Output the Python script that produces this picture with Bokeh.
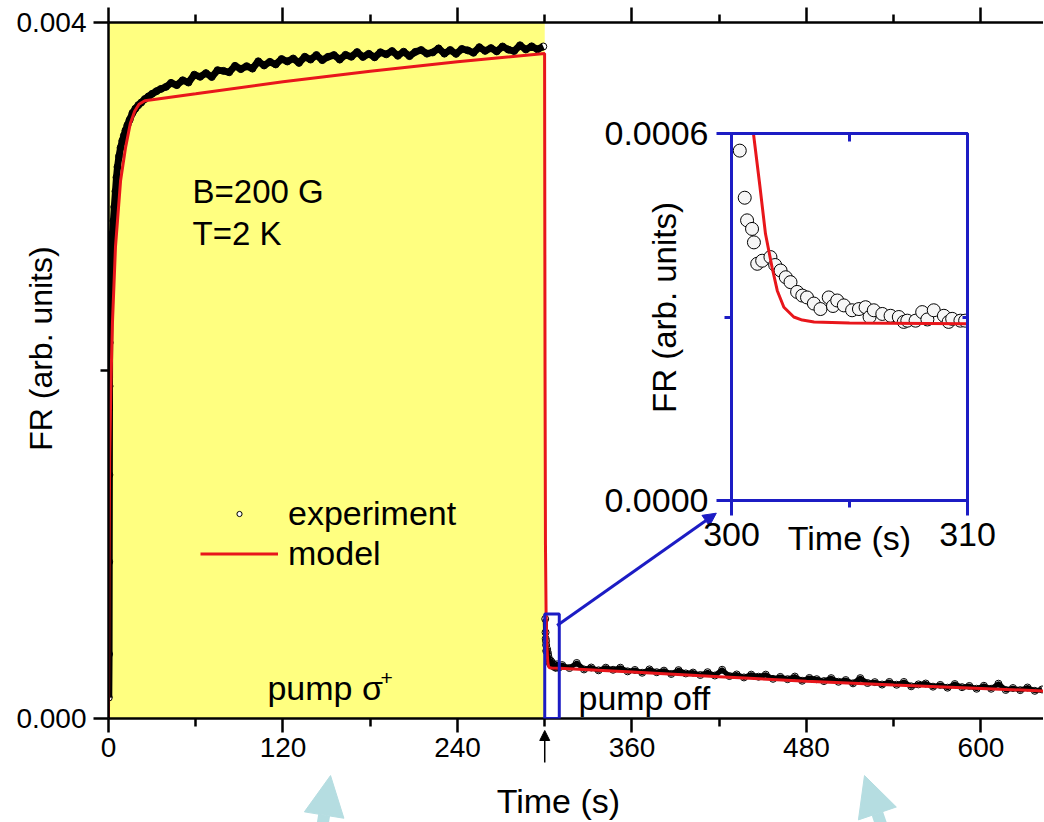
import numpy as np
from bokeh.plotting import figure
from bokeh.models import (Range1d, LinearAxis, FixedTicker, BoxAnnotation, Arrow,
                          NormalHead, Label, Legend, LegendItem, GridBox)
from bokeh.embed import file_html
from bokeh.resources import INLINE

FONT = "Liberation Sans"
RED = "#e8161b"
BLUE = "#1c1cc4"
YELLOW = "#ffff80"
LIGHT_BLUE = "#b5dde1"

SCALE = 1e-6          # FR values below are in units of 1e-6 (arb. units)
PUMP_OFF = 300.0      # s, end of the sigma+ pumping interval

# --- measured Faraday rotation, pump on: fast rise ---
rise_t = [0.2, 0.4, 0.5, 0.6, 0.7, 0.8, 0.9, 1.1, 1.4, 1.7, 2.1, 2.5, 2.9, 3.4, 4.0, 4.8,
          5.5, 6.2, 7.2, 8.3, 9.5, 10.6, 11.7, 13.0, 14.5, 16.5, 18.5, 20.5, 22.5,
          25.0, 27.5, 30.0, 33.0, 36.0, 39.5]
rise_fr = [120, 370, 900, 1400, 1910, 2160, 2330, 2410, 2490, 2570, 2670, 2740, 2790, 2860,
           2940, 3030, 3110, 3170, 3230, 3280, 3320, 3350, 3380, 3410, 3440, 3480, 3505,
           3525, 3540, 3560, 3575, 3590, 3605, 3618, 3630]

# --- measured, pump on: slow saturation ---
sat_t = [43, 47, 51, 55, 59, 63, 67, 71, 75, 79, 83, 87, 91, 95, 99, 103, 107, 111, 115,
         119, 123, 127, 131, 135, 139, 143, 147, 151, 155, 159, 163, 167, 171, 175, 179,
         183, 187, 191, 195, 199, 203, 207, 211, 215, 219, 223, 227, 231, 235, 239, 243,
         247, 251, 255, 259, 263, 267, 271, 275, 279, 283, 287, 291, 295, 299]
sat_fr = [3653, 3640, 3668, 3655, 3700, 3688, 3709, 3687, 3726, 3722, 3714, 3751, 3732,
          3749, 3735, 3777, 3753, 3774, 3759, 3790, 3776, 3793, 3768, 3803, 3787, 3813,
          3784, 3803, 3813, 3787, 3814, 3803, 3830, 3802, 3820, 3800, 3829, 3817, 3836,
          3809, 3832, 3807, 3831, 3842, 3821, 3828, 3851, 3821, 3842, 3820, 3848, 3840,
          3826, 3858, 3837, 3853, 3834, 3862, 3844, 3836, 3869, 3845, 3863, 3846, 3862]

# --- measured, pump off: first 10 s ---
fall_t = [300.35, 300.56, 300.66, 300.87, 300.95, 301.09, 301.30, 301.65, 301.85, 302.08,
          302.30, 302.50, 302.78, 303.00, 303.20, 303.49, 303.77, 304.12, 304.30, 304.48,
          304.76, 305.11, 305.40, 305.68, 305.85, 306.03, 306.39, 306.74, 307.09, 307.30,
          307.45, 307.80, 308.08, 308.30, 308.57, 309.00, 309.20, 309.35, 309.70, 309.90]
fall_fr = [572, 495, 458, 444, 422, 387, 392, 398, 385, 376, 365, 357, 341, 335, 332, 322,
           313, 332, 318, 327, 319, 311, 313, 316, 300, 311, 305, 302, 300, 292, 294, 294,
           308, 296, 311, 302, 292, 297, 294, 294]

# --- measured, pump off: slow relaxation ---
relax_t = [312, 317, 322, 327, 332, 337, 342, 347, 352, 357, 362, 367, 372, 377, 382, 387,
           392, 397, 402, 407, 412, 417, 422, 427, 432, 437, 442, 447, 452, 457, 462, 467,
           472, 477, 482, 487, 492, 497, 502, 507, 512, 517, 522, 527, 532, 537, 542, 547,
           552, 557, 562, 567, 572, 577, 582, 587, 592, 597, 602, 607, 612, 617, 622, 627,
           632, 637, 642]
relax_fr = [307, 290, 319, 282, 293, 277, 292, 280, 292, 271, 279, 263, 282, 266, 275, 256,
            278, 259, 264, 250, 266, 247, 280, 244, 253, 236, 252, 240, 252, 228, 239, 226,
            241, 217, 233, 226, 215, 232, 211, 221, 202, 232, 204, 209, 195, 210, 194, 210,
            185, 196, 201, 183, 193, 177, 198, 180, 187, 171, 188, 171, 200, 164, 175, 163,
            178, 159, 167]

# --- model curve ---
model_t = [0, 0.3, 0.8, 1.6, 2.7, 4.8, 8.3, 11.7, 15, 18, 21, 25, 60, 120, 180, 240, 299.9,
           300.2, 300.5, 300.93, 301.2, 301.44, 301.72, 301.94, 302.22, 302.64, 303.0,
           303.5, 305, 310, 360, 420, 480, 540, 600, 644]
model_fr = [0, 800, 1500, 1900, 2270, 2710, 3090, 3280, 3420, 3490, 3530, 3550, 3590, 3660,
            3720, 3775, 3822, 2000, 1000, 600, 515, 436, 381, 343, 316, 300, 295, 292, 290,
            289, 267, 240, 214, 192, 173, 158]

# ticks
x_major = [0, 120, 240, 360, 480, 600]
x_minor = [60, 180, 300, 420, 540]
y_major = [0.0, 0.004]
y_minor = [0.002]
y_labels = {0.0: "0.000", 0.004: "0.004"}

ins_x_major = [300, 310]
ins_x_minor = [305]
ins_y_major = [0.0, 0.0006]
ins_y_minor = [0.0003]
ins_y_labels = {0.0: "0.0000", 0.0006: "0.0006"}

# ---------------- page geometry (px) ----------------
# main canvas: page (0,0)-(1043,821); overlay canvas: page (1,1)-(1044,822);
# inset canvas: page (580,100)-(1007,570).  Distinct grid edges keep Bokeh
# from aligning the frames of the three plots.
MAIN_L, MAIN_T, MAIN_W, MAIN_H = 108, 22, 935, 696
MAIN_CW, MAIN_CH = 1043, 821
INS_X0, INS_Y0, INS_CW, INS_CH = 580, 100, 427, 470
INS_BL, INS_BT, INS_W, INS_H = 151, 33, 236, 367
OV_X0, OV_Y0, OV_CW, OV_CH = 1, 1, 1043, 821
X_END = 643.0
Y_END = 0.004
INS_X = (300.0, 310.0)
INS_Y = (0.0, 0.0006)

on_t = np.array(rise_t + sat_t, dtype=float)
on_fr = np.array(rise_fr + sat_fr, dtype=float) * SCALE
off_t = np.array(fall_t + relax_t, dtype=float)
off_fr = np.array(fall_fr + relax_fr, dtype=float) * SCALE
all_t = np.concatenate([on_t, off_t])
all_fr = np.concatenate([on_fr, off_fr])
m_t = np.array(model_t, dtype=float)
m_fr = np.array(model_fr, dtype=float) * SCALE


def style_axis(ax, major, minor, out, minor_out, color, width, font_size, standoff,
               tick_in=0, minor_in=0):
    ax.ticker = FixedTicker(ticks=major, minor_ticks=minor)
    ax.axis_line_color = color
    ax.axis_line_width = width
    ax.major_tick_line_color = color
    ax.major_tick_line_width = width
    ax.minor_tick_line_color = color
    ax.minor_tick_line_width = width
    ax.major_tick_out = out
    ax.major_tick_in = tick_in
    ax.minor_tick_out = minor_out
    ax.minor_tick_in = minor_in
    ax.major_label_text_font = FONT
    ax.major_label_text_font_size = font_size
    ax.major_label_text_color = "black"
    ax.major_label_standoff = standoff


def add_text(fig, x, y, text, size, align="left", angle=0.0, xr="default", yr="default"):
    fig.add_layout(Label(x=x, y=y, text=text, text_font=FONT, text_font_size=size,
                         text_align=align, text_baseline="middle", angle=angle,
                         text_color="black", x_range_name=xr, y_range_name=yr))


# ---------------- main panel ----------------
p = figure(frame_width=MAIN_W, frame_height=MAIN_H, x_range=Range1d(0, X_END),
           y_range=Range1d(0, Y_END), output_backend="svg", toolbar_location=None,
           min_border_left=MAIN_L, min_border_top=MAIN_T,
           min_border_right=MAIN_CW - MAIN_L - MAIN_W,
           min_border_bottom=MAIN_CH - MAIN_T - MAIN_H)
p.xgrid.visible = False
p.ygrid.visible = False
p.outline_line_color = None
p.background_fill_color = "white"
p.border_fill_color = "white"

style_axis(p.xaxis[0], x_major, x_minor, 14, 8, "black", 2.5, "28px", 5)
style_axis(p.yaxis[0], y_major, y_minor, 15, 8, "black", 2.5, "28px", 7)
p.yaxis[0].major_label_overrides = y_labels

top = LinearAxis()
style_axis(top, x_major, x_minor, 15, 8, "black", 2.5, "1px", 0)
top.major_label_text_alpha = 0
p.add_layout(top, "above")

# pumping interval
p.add_layout(BoxAnnotation(left=0, right=PUMP_OFF, fill_color=YELLOW, fill_alpha=1.0,
                           line_color=None, level="underlay"))

# experiment: open circles, dense trace drawn over them
exp_r = p.scatter(all_t, all_fr, marker="circle", size=7, line_color="black",
                  line_width=1, fill_color="white")
p.line(on_t, on_fr, line_color="black", line_width=7, line_join="round")
p.line(off_t, off_fr, line_color="black", line_width=5, line_join="round")
# model
model_r = p.line(m_t, m_fr, line_color=RED, line_width=3)

# zoom window and pointer to the inset
p.add_layout(BoxAnnotation(left=INS_X[0], right=INS_X[1], bottom=INS_Y[0], top=INS_Y[1],
                           fill_alpha=0, line_color=BLUE, line_alpha=1.0, line_width=3))
p.add_layout(Arrow(x_start=308.5, y_start=0.000534, x_end=418, y_end=0.00118,
                   line_color=BLUE, line_width=3,
                   end=NormalHead(size=13, fill_color=BLUE, line_color=BLUE)))

add_text(p, 57.8, 0.0030287, "B=200 G", "33px")
add_text(p, 57.8, 0.0027874, "T=2 K", "33px")
add_text(p, 109.3, 0.0001759, "pump \u03c3", "34px")
add_text(p, 187.0, 0.0002328, "+", "21px")
add_text(p, 323.2, 0.0001184, "pump off", "34px")

legend = Legend(items=[LegendItem(label="experiment", renderers=[exp_r]),
                       LegendItem(label="model", renderers=[model_r])],
                location=(92, 145), orientation="vertical", glyph_width=78,
                glyph_height=13, label_height=40, label_standoff=10, spacing=0,
                padding=0, margin=0, border_line_color=None, background_fill_alpha=0,
                label_text_font=FONT, label_text_font_size="34px",
                label_text_color="black")
p.add_layout(legend)

# ---------------- inset ----------------
ins = figure(frame_width=INS_W, frame_height=INS_H, x_range=Range1d(*INS_X),
             y_range=Range1d(*INS_Y), output_backend="svg", toolbar_location=None,
             min_border_left=INS_BL, min_border_top=INS_BT,
             min_border_right=INS_CW - INS_BL - INS_W,
             min_border_bottom=INS_CH - INS_BT - INS_H)
ins.xgrid.visible = False
ins.ygrid.visible = False
ins.border_fill_color = None
ins.background_fill_color = "white"
ins.outline_line_color = BLUE
ins.outline_line_width = 3

style_axis(ins.xaxis[0], ins_x_major, ins_x_minor, 15, 7, BLUE, 3, "34px", 7)
style_axis(ins.yaxis[0], ins_y_major, ins_y_minor, 15, 7, BLUE, 3, "34px", 8)
ins.yaxis[0].major_label_overrides = ins_y_labels

ins_top = LinearAxis()
style_axis(ins_top, ins_x_major, ins_x_minor, 0, 0, BLUE, 3, "1px", 0, minor_in=8)
ins_top.major_label_text_alpha = 0
ins.add_layout(ins_top, "above")
ins_right = LinearAxis()
style_axis(ins_right, ins_y_major, ins_y_minor, 0, 0, BLUE, 3, "1px", 0, minor_in=5)
ins_right.major_label_text_alpha = 0
ins.add_layout(ins_right, "right")

ins.scatter(all_t, all_fr, marker="circle", size=13, line_color="black", line_width=1,
            fill_color="#f6f6f6")
ins.line(m_t, m_fr, line_color=RED, line_width=3)

# ---------------- overlay for titles and arrows outside the frames ----------------
sx = MAIN_W / X_END
sy = MAIN_H / Y_END
isx = INS_W / (INS_X[1] - INS_X[0])
isy = INS_H / (INS_Y[1] - INS_Y[0])
ins_fl = INS_X0 + INS_BL            # inset frame left on the page
ins_fb = INS_Y0 + INS_BT + INS_H    # inset frame bottom on the page


def main_t(px):
    return (px - MAIN_L) / sx


def main_v(py):
    return (MAIN_T + MAIN_H - py) / sy


def ins_t(px):
    return INS_X[0] + (px - ins_fl) / isx


def ins_v(py):
    return INS_Y[0] + (ins_fb - py) / isy


ov = figure(frame_width=OV_CW, frame_height=OV_CH,
            x_range=Range1d(main_t(OV_X0), main_t(OV_X0 + OV_CW)),
            y_range=Range1d(main_v(OV_Y0 + OV_CH), main_v(OV_Y0)),
            x_axis_location=None, y_axis_location=None, min_border=0,
            output_backend="svg", toolbar_location=None)
ov.extra_x_ranges = {"ix": Range1d(ins_t(OV_X0), ins_t(OV_X0 + OV_CW))}
ov.extra_y_ranges = {"iy": Range1d(ins_v(OV_Y0 + OV_CH), ins_v(OV_Y0))}
ov.grid.visible = False
ov.outline_line_color = None
ov.background_fill_color = None
ov.border_fill_color = None

add_text(ov, 309.4, -0.00047356, "Time (s)", "34px", align="center")
add_text(ov, -46.6, 0.002126, "FR (arb. units)", "32px", align="center", angle=np.pi / 2)
add_text(ov, 305.0, -0.0000611, "Time (s)", "34px", align="center", xr="ix", yr="iy")
add_text(ov, 297.15, 0.0003155, "FR (arb. units)", "33px", align="center",
         angle=np.pi / 2, xr="ix", yr="iy")

# marker of the pump switch-off time
ov.add_layout(Arrow(x_start=PUMP_OFF, y_start=-0.000253, x_end=PUMP_OFF, y_end=-0.000069,
                    line_color="black", line_width=1.5,
                    end=NormalHead(size=10, fill_color="black", line_color="black")))
# highlighted features
ov.add_layout(Arrow(x_start=139.3, y_start=-0.00102, x_end=152.7, y_end=-0.000328,
                    line_color=LIGHT_BLUE, line_width=12,
                    end=NormalHead(size=40, fill_color=LIGHT_BLUE, line_color=LIGHT_BLUE)))
ov.add_layout(Arrow(x_start=552.9, y_start=-0.00114, x_end=519.9, y_end=-0.000328,
                    line_color=LIGHT_BLUE, line_width=12,
                    end=NormalHead(size=40, fill_color=LIGHT_BLUE, line_color=LIGHT_BLUE)))

page = GridBox(children=[(p, 0, 0, 4, 4), (ins, 2, 2, 1, 1), (ov, 1, 1, 4, 4)],
               rows=["1px", "99px", "470px", "251px", "1px"],
               cols=["1px", "579px", "427px", "36px", "1px"], spacing=0)

open("out.html", "w").write(file_html(page, INLINE))
